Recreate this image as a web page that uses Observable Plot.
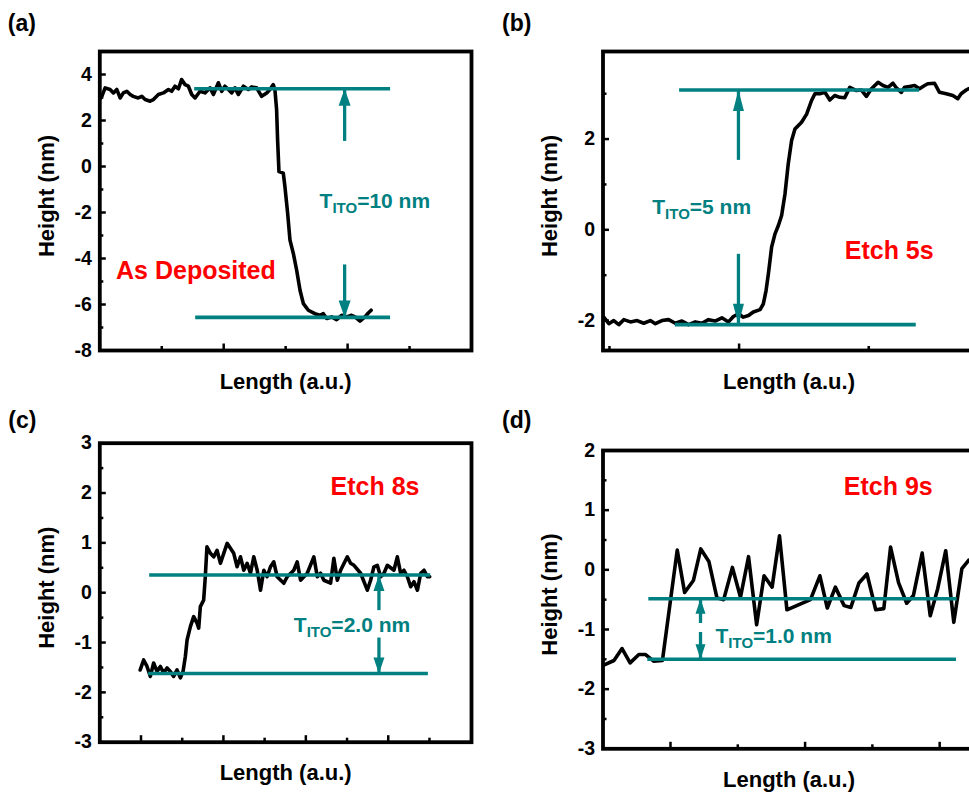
<!DOCTYPE html>
<html><head><meta charset="utf-8">
<script src="https://cdn.jsdelivr.net/npm/d3@7"></script>
<script src="https://cdn.jsdelivr.net/npm/@observablehq/plot@0.6"></script>
<style>
html,body{margin:0;padding:0;background:#fff;overflow:hidden;}
#root{position:relative;width:969px;height:794px;overflow:hidden;background:#fff;}
.panel{position:absolute;}
</style></head><body><div id="root"></div>
<script>
const TEAL = "#008080", RED = "#ff0000";

// ---------- Panel (a): As Deposited ----------
const aLength = [0.005,0.016,0.043,0.083,0.11,0.137,0.164,0.19,0.218,0.245,0.27,0.31,0.339,0.366,0.406,0.433,0.473,0.513,0.554,0.58,0.607,0.635,0.66,0.688,0.715,0.742,0.769,0.809,0.849,0.89,0.917,0.957,0.984,1.01,1.038,1.065,1.091,1.118,1.159,1.199,1.226,1.266,1.306,1.347,1.373,1.4,1.414,1.427,1.435,1.446,1.481,1.494,1.516,1.535,1.562,1.589,1.616,1.643,1.683,1.736,1.777,1.804,1.831,1.871,1.911,1.952,1.992,2.032,2.06,2.1,2.14,2.167,2.19];
const aHeight = [2.95,3.05,3.42,3.35,3.20,3.35,2.98,3.20,3.27,3.13,3.05,2.98,3.05,2.91,2.84,2.91,3.13,3.20,3.35,3.27,3.49,3.38,3.78,3.56,3.49,3.13,2.98,3.27,3.20,3.42,3.13,3.64,3.27,3.49,3.35,3.20,3.42,3.13,3.49,3.35,3.46,3.42,3.05,3.20,3.35,3.56,3.30,2.47,1.16,-0.22,-0.29,-0.87,-2.03,-3.2,-3.78,-4.51,-5.38,-5.96,-6.25,-6.40,-6.47,-6.40,-6.61,-6.54,-6.66,-6.47,-6.54,-6.47,-6.54,-6.72,-6.54,-6.37,-6.25];
const aLevels = [3.38, -6.56];
const aLevelSpans = [[0.766, 2.347], [0.774, 2.347]];
const aArrow = {x: 1.976, upFrom: 1.09, downFrom: -4.28};
const aThickness = "10 nm", aThicknessAt = [1.774, -1.815];
const aCondition = "As Deposited", aConditionAt = [0.131, -4.91];
const aXMajor = [0, 1, 2, 3], aXMinor = [0.5, 1.5, 2.5];
const aYMajor = [-8, -6, -4, -2, 0, 2, 4], aYMinor = [-7, -5, -3, -1, 1, 3];

// ---------- Panel (b): Etch 5s ----------
const bLength = [-0.044,-0.005,0.033,0.072,0.11,0.162,0.213,0.264,0.315,0.354,0.405,0.456,0.508,0.559,0.61,0.662,0.713,0.764,0.815,0.867,0.918,0.956,0.995,1.033,1.072,1.11,1.162,1.187,1.208,1.226,1.251,1.277,1.303,1.328,1.354,1.379,1.405,1.431,1.482,1.521,1.559,1.585,1.623,1.662,1.70,1.738,1.777,1.815,1.854,1.905,1.944,1.982,2.021,2.072,2.11,2.149,2.187,2.213,2.252,2.277,2.315,2.354,2.392,2.431,2.456,2.508,2.546,2.598,2.649,2.687,2.713,2.752,2.77,2.80];
const bHeight = [-1.925,-2.07,-2.0,-2.09,-1.98,-2.03,-2.0,-2.06,-2.0,-2.07,-2.0,-1.98,-2.06,-2.01,-2.09,-2.03,-2.06,-1.98,-2.01,-1.94,-2.03,-1.91,-1.85,-1.925,-1.89,-1.81,-1.76,-1.63,-1.34,-0.97,-0.38,-0.09,0.095,0.315,0.79,1.45,1.97,2.22,2.37,2.55,2.85,3.0,3.0,3.03,2.86,2.96,2.92,2.91,3.14,3.07,3.08,2.94,3.11,3.25,3.18,3.14,3.23,3.13,3.03,3.14,3.16,3.18,3.11,3.18,3.22,3.23,3.03,3.0,2.96,2.89,3.0,3.08,3.11,3.12];
const bLevels = [3.08, -2.09];
const bLevelSpans = [[0.541, 2.392], [0.508, 2.367]];
const bArrow = {x: 0.995, upFrom: 1.53, downFrom: -0.54};
const bThickness = "5 nm", bThicknessAt = [0.33, 0.35];
const bCondition = "Etch 5s", bConditionAt = [1.815, -0.64];
const bXMajor = [1, 3], bXMinor = [0, 2];
const bYMajor = [-2, 0, 2], bYMinor = [-1, 1, 3];

// ---------- Panel (c): Etch 8s ----------
const cLength = [-0.01,0.032,0.073,0.113,0.153,0.194,0.235,0.275,0.316,0.356,0.396,0.437,0.478,0.51,0.538,0.559,0.599,0.639,0.68,0.70,0.72,0.76,0.78,0.80,0.842,0.882,0.923,0.964,1.004,1.045,1.085,1.125,1.166,1.207,1.247,1.288,1.328,1.368,1.41,1.45,1.49,1.53,1.571,1.611,1.652,1.733,1.774,1.854,1.895,1.936,2.017,2.097,2.139,2.179,2.219,2.30,2.34,2.382,2.422,2.503,2.543,2.584,2.665,2.746,2.786,2.826,2.867,2.908,2.948,2.989,3.069,3.11,3.15,3.19,3.232,3.272,3.312,3.354,3.394,3.434,3.475,3.503];
const cHeight = [-1.55,-1.35,-1.48,-1.68,-1.41,-1.58,-1.48,-1.61,-1.51,-1.58,-1.68,-1.55,-1.71,-1.58,-1.28,-0.95,-0.68,-0.48,-0.61,-0.71,-0.28,-0.15,0.32,0.92,0.79,0.72,0.85,0.59,0.79,0.99,0.89,0.79,0.52,0.72,0.45,0.59,0.39,0.72,0.45,0.05,0.45,0.32,0.52,0.62,0.32,0.19,0.32,0.45,0.62,0.25,0.39,0.72,0.32,0.39,0.25,0.19,0.69,0.25,0.45,0.72,0.59,0.55,0.39,0.05,0.25,0.52,0.55,0.32,0.39,0.55,0.45,0.72,0.39,0.45,0.32,0.12,0.22,0.05,0.39,0.45,0.32,0.32];
const cLevels = [0.354, -1.62];
const cLevelSpans = [[0.105, 3.515], [0.092, 3.487]];
const cArrow = {x: 2.887, upFrom: -0.36, downFrom: -0.91};
const cThickness = "2.0 nm", cThicknessAt = [1.854, -0.78];
const cCondition = "Etch 8s", cConditionAt = [2.30, 1.97];
const cXMajor = [0, 1, 2, 3], cXMinor = [0.5, 1.5, 2.5, 3.5];
const cYMajor = [-3, -2, -1, 0, 1, 2, 3], cYMinor = [-2.5, -1.5, -0.5, 0.5, 1.5, 2.5];

// ---------- Panel (d): Etch 9s ----------
const dLength = [-1.00,-0.84,-0.72,-0.60,-0.47,-0.37,-0.25,-0.12,0.10,0.21,0.34,0.45,0.57,0.69,0.79,0.92,1.04,1.16,1.28,1.39,1.51,1.62,1.73,2.08,2.22,2.33,2.45,2.58,2.68,2.80,2.92,3.05,3.17,3.27,3.39,3.51,3.61,3.74,3.86,3.97,4.09,4.21,4.33,4.43];
const dHeight = [-1.60,-1.52,-1.32,-1.56,-1.42,-1.42,-1.53,-1.52,0.33,-0.38,-0.18,0.35,0.14,-0.47,-0.50,0.04,-0.46,0.22,-0.92,-0.10,-0.29,0.57,-0.67,-0.50,-0.10,-0.64,-0.29,-0.60,-0.63,-0.22,-0.07,-0.67,-0.65,0.38,-0.22,-0.56,-0.43,0.28,-0.77,-0.32,0.32,-0.88,0.02,0.16];
const dLevels = [-0.486, -1.50];
const dLevelSpans = [[-0.322, 4.26], [-0.337, 4.25]];
const dArrow = {x: 0.446, upFrom: -0.90, downFrom: -1.05};
const dThickness = "1.0 nm", dThicknessAt = [0.669, -1.23];
const dCondition = "Etch 9s", dConditionAt = [2.576, 1.26];
const dXMajor = [0, 2, 4], dXMinor = [1, 3];
const dYMajor = [-3, -2, -1, 0, 1, 2], dYMinor = [-2.5, -1.5, -0.5, 0.5, 1.5];

const letters = ["(a)", "(b)", "(c)", "(d)"];
const xTitle = "Length (a.u.)", yTitle = "Height (nm)";

// ---------- layout (pixels) ----------
const layouts = [
  {left: 0,   top: 0,   width: 481, height: 400, mL: 99.3, mT: 51,   mR: 10,   mB: 50,   xDomain: [0, 3],         yDomain: [-8, 5],       head: [17, 6],   letter: [-92, -20.5]},
  {left: 480, top: 0,   width: 505, height: 400, mL: 122.5, mT: 51,  mR: 10.5, mB: 50,   xDomain: [-0.05, 2.82],  yDomain: [-2.66, 3.93], head: [21, 5.5], letter: [-101, -20.5]},
  {left: 0,   top: 400, width: 481, height: 394, mL: 99.3, mT: 42.7, mR: 10,   mB: 52.3, xDomain: [-0.5, 4.01],   yDomain: [-3, 3],       head: [16, 5.5], letter: [-91.5, -15.7]},
  {left: 480, top: 400, width: 505, height: 394, mL: 122.5, mT: 50,  mR: 10.5, mB: 45.7, xDomain: [-1.003, 4.525], yDomain: [-3, 2],       head: [15, 5],   letter: [-101, -23]}
];

const panels = [
  {length: aLength, height: aHeight, levels: aLevels, spans: aLevelSpans, arrow: aArrow, thick: aThickness, thickAt: aThicknessAt, cond: aCondition, condAt: aConditionAt, xMajor: aXMajor, xMinor: aXMinor, yMajor: aYMajor, yMinor: aYMinor},
  {length: bLength, height: bHeight, levels: bLevels, spans: bLevelSpans, arrow: bArrow, thick: bThickness, thickAt: bThicknessAt, cond: bCondition, condAt: bConditionAt, xMajor: bXMajor, xMinor: bXMinor, yMajor: bYMajor, yMinor: bYMinor},
  {length: cLength, height: cHeight, levels: cLevels, spans: cLevelSpans, arrow: cArrow, thick: cThickness, thickAt: cThicknessAt, cond: cCondition, condAt: cConditionAt, xMajor: cXMajor, xMinor: cXMinor, yMajor: cYMajor, yMinor: cYMinor},
  {length: dLength, height: dHeight, levels: dLevels, spans: dLevelSpans, arrow: dArrow, thick: dThickness, thickAt: dThicknessAt, cond: dCondition, condAt: dConditionAt, xMajor: dXMajor, xMinor: dXMinor, yMajor: dYMajor, yMinor: dYMinor}
];

function headSymbol(len, half, dir) {
  return {draw(ctx) { ctx.moveTo(0, 0); ctx.lineTo(half, dir * len); ctx.lineTo(-half, dir * len); ctx.closePath(); }};
}

const FONT = "'Liberation Sans', Arial, Helvetica, sans-serif";
const root = document.getElementById("root");

panels.forEach((p, i) => {
  const L = layouts[i];
  const curve = p.length.map((x, k) => ({x, y: p.height[k]}));
  const levels = p.levels.map((y, k) => ({y, x1: p.spans[k][0], x2: p.spans[k][1]}));
  const shafts = [
    {x: p.arrow.x, y1: p.arrow.upFrom, y2: p.levels[0]},
    {x: p.arrow.x, y1: p.arrow.downFrom, y2: p.levels[1]}
  ];
  const svg = Plot.plot({
    width: L.width, height: L.height,
    marginLeft: L.mL, marginTop: L.mT, marginRight: L.mR, marginBottom: L.mB,
    x: {domain: L.xDomain},
    y: {domain: L.yDomain},
    style: {fontFamily: FONT, fontWeight: "bold", fontSize: "18px", background: "transparent", maxWidth: "none", overflow: "visible", color: "black"},
    marks: [
      Plot.line(curve, {x: "x", y: "y", stroke: "black", strokeWidth: 3.6, strokeLinejoin: "round", strokeLinecap: "round", clip: true}),
      Plot.ruleY(levels, {y: "y", x1: "x1", x2: "x2", stroke: TEAL, strokeWidth: 3.6}),
      Plot.ruleX(shafts, {x: "x", y1: "y1", y2: "y2", stroke: TEAL, strokeWidth: 3.3}),
      Plot.dot([shafts[0]], {x: "x", y: "y2", r: 5, symbol: headSymbol(L.head[0], L.head[1], 1), fill: TEAL, stroke: "none"}),
      Plot.dot([shafts[1]], {x: "x", y: "y2", r: 5, symbol: headSymbol(L.head[0], L.head[1], -1), fill: TEAL, stroke: "none"}),
      Plot.text([{x: p.thickAt[0], y: p.thickAt[1], t: "T_ITO=" + p.thick}], {x: "x", y: "y", text: "t", fill: TEAL, fontSize: 21, fontWeight: "bold", textAnchor: "start", lineAnchor: "bottom"}),
      Plot.text([{x: p.condAt[0], y: p.condAt[1], t: p.cond}], {x: "x", y: "y", text: "t", fill: RED, fontSize: 25, fontWeight: "bold", textAnchor: "start", lineAnchor: "bottom"}),
      Plot.frame({stroke: "black", strokeWidth: 3.8}),
      Plot.axisX({ticks: p.xMajor, tickSize: -6.5, strokeWidth: 2.5, fill: "none", label: null}),
      Plot.axisX({ticks: p.xMinor, tickSize: -4, strokeWidth: 2.5, fill: "none", label: null}),
      Plot.axisY({ticks: p.yMajor, tickSize: -6.5, strokeWidth: 2.5, fill: "none", label: null}),
      Plot.axisY({ticks: p.yMinor, tickSize: -4, strokeWidth: 2.5, fill: "none", label: null}),
      Plot.text(p.yMajor, {y: d => d, text: d => String(d), frameAnchor: "left", dx: -8, textAnchor: "end", lineAnchor: "middle", fontSize: 19.5, fontWeight: "bold"}),
      Plot.text([yTitle], {text: d => d, frameAnchor: "left", dx: -46, dy: -5, rotate: -90, lineAnchor: "bottom", textAnchor: "middle", fontSize: 22, fontWeight: "bold"}),
      Plot.text([xTitle], {text: d => d, frameAnchor: "bottom", dy: 38, lineAnchor: "bottom", textAnchor: "middle", fontSize: 22, fontWeight: "bold"}),
      Plot.text([letters[i]], {text: d => d, frameAnchor: "top-left", dx: L.letter[0], dy: L.letter[1], lineAnchor: "bottom", textAnchor: "start", fontSize: 23, fontWeight: "bold"})
    ]
  });
  // subscript for T_ITO
  const ns = "http://www.w3.org/2000/svg";
  svg.querySelectorAll("text").forEach(t => {
    if (!t.textContent.startsWith("T_ITO")) return;
    const rest = t.textContent.replace(/^T_ITO/, "");
    t.textContent = "";
    const s1 = document.createElementNS(ns, "tspan"); s1.textContent = "T";
    const s2 = document.createElementNS(ns, "tspan"); s2.textContent = "ITO"; s2.setAttribute("font-size", "15"); s2.setAttribute("dy", "5");
    const s3 = document.createElementNS(ns, "tspan"); s3.textContent = rest; s3.setAttribute("dy", "-5");
    t.append(s1, s2, s3);
  });
  const wrap = document.createElement("div");
  wrap.className = "panel";
  wrap.style.left = L.left + "px";
  wrap.style.top = L.top + "px";
  wrap.style.width = L.width + "px";
  wrap.appendChild(svg);
  root.appendChild(wrap);
});
</script>
</body></html>
